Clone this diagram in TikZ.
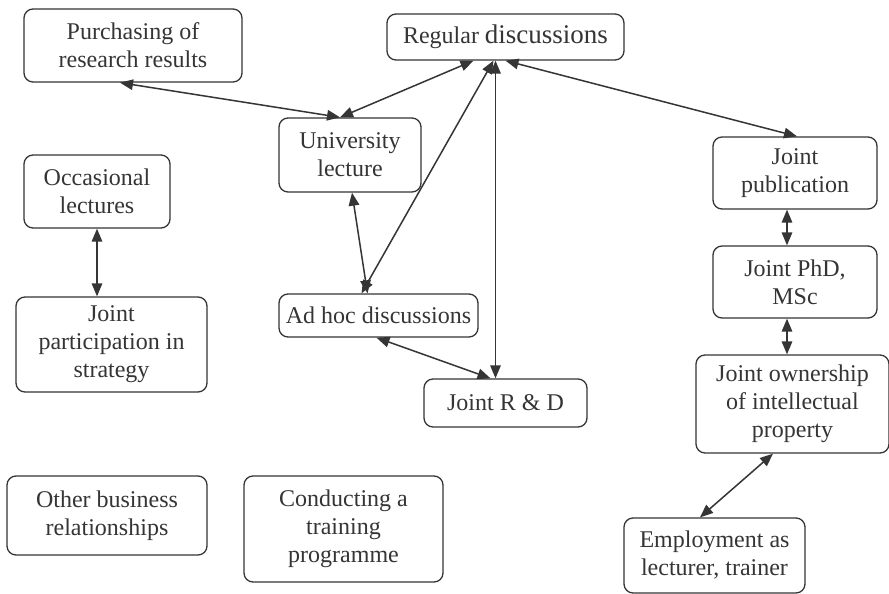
\documentclass[tikz,border=0pt]{standalone}
\usepackage{fontspec}
\setmainfont{Liberation Serif}
\usepackage{tikz}
\usetikzlibrary{arrows.meta,positioning,calc}
\definecolor{ink}{HTML}{353535}

\begin{document}
\begin{tikzpicture}[x=1pt,y=-1pt,>={Triangle[length=13pt,width=10.5pt]},
  box/.style={draw=ink,line width=1.3pt,rounded corners=9pt,align=center,text=ink,inner sep=0pt,
    font=\fontsize{24}{28}\selectfont},
  link/.style={<->,draw=ink,line width=1.5pt}]
  \useasboundingbox[fill=white] (0,0) rectangle (889,594);
  % boxes
  \node[box,minimum width=218pt,minimum height=73pt] (purch) at (133,45.5) {Purchasing of\\research results};
  \node[box,minimum width=237pt,minimum height=46pt] (reg) at (505.5,37) {Regular {\fontsize{27}{28}\selectfont discussions}};
  \node[box,minimum width=142pt,minimum height=74pt] (uni) at (350,155) {University\\lecture};
  \node[box,minimum width=146pt,minimum height=73pt] (occ) at (97,191.5) {Occasional\\lectures};
  \node[box,minimum width=191pt,minimum height=95pt] (part) at (111.5,344.5) {Joint\\participation in\\strategy};
  \node[box,minimum width=199pt,minimum height=43pt] (adhoc) at (378.5,315.5) {Ad hoc discussions};
  \node[box,minimum width=163pt,minimum height=48pt] (rd) at (505.5,403) {Joint R \& D};
  \node[box,minimum width=200pt,minimum height=79pt] (other) at (107,515.5) {Other business\\relationships};
  \node[box,minimum width=199pt,minimum height=106pt] (train) at (343.5,529) {Conducting a\\training\\programme};
  \node[box,minimum width=164pt,minimum height=72pt] (pub) at (795,173) {Joint\\publication};
  \node[box,minimum width=164pt,minimum height=72pt] (phd) at (795,282) {Joint PhD,\\MSc};
  \node[box,minimum width=193pt,minimum height=98pt] (own) at (792.5,404) {Joint ownership\\of intellectual\\property};
  \node[box,minimum width=181pt,minimum height=75pt] (emp) at (714.5,555.5) {Employment as\\lecturer, trainer};
  % links
  \draw[link] ([xshift=-13pt]purch.south) -- ([xshift=-10pt]uni.north);
  \draw[link] ([xshift=-32pt]reg.south) -- ([xshift=-10pt]uni.north);
  \draw[link] ([xshift=-12pt]reg.south) -- ([xshift=-17pt]adhoc.north);
  \draw[link] ([xshift=2pt]uni.south) -- ([xshift=-11pt]adhoc.north);
  \draw[link] ([xshift=-10pt]reg.south) -- ([xshift=-10pt]rd.north);
  \draw[link] ([xshift=-2pt]adhoc.south) -- ([xshift=-15pt]rd.north);
  \draw[link] ([xshift=0pt]reg.south) -- ([xshift=2pt]pub.north);
  \draw[link] (occ.south) -- ([xshift=-14.5pt]part.north);
  \draw[link] ([xshift=-8pt]pub.south) -- ([xshift=-8pt]phd.north);
  \draw[link] ([xshift=-8pt]phd.south) -- ([xshift=-5.5pt]own.north);
  \draw[link] ([xshift=-19.5pt]own.south) -- ([xshift=-14.5pt]emp.north);
\end{tikzpicture}
\end{document}
